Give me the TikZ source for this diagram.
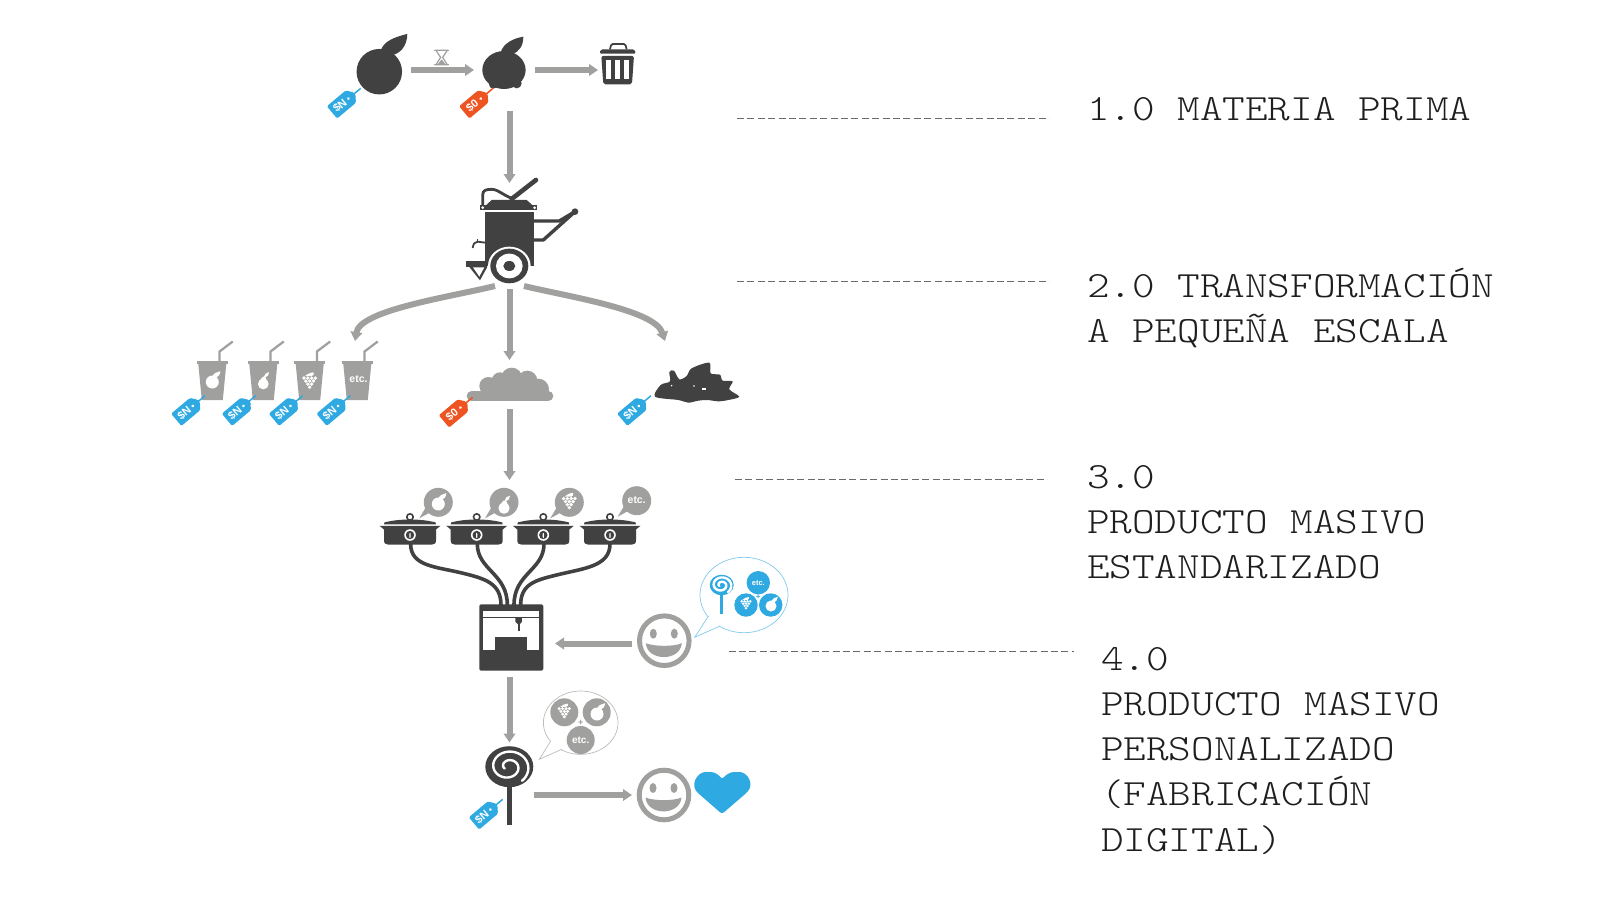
\documentclass[tikz,border=0pt]{standalone}
\usepackage{fontspec}
\setmainfont{Liberation Sans}
\newfontfamily\labfont[FakeStretch=1.163]{Latin Modern Mono Light}
\usetikzlibrary{arrows.meta}
\definecolor{ink}{HTML}{404140}
\definecolor{mid}{HTML}{A0A09F}
\definecolor{tagblue}{HTML}{2FA9E1}
\definecolor{tagorange}{HTML}{EE5322}
\definecolor{dashc}{HTML}{6A6A6A}
\definecolor{txt}{HTML}{1E1E1E}
\tikzset{
  conn/.style={draw=mid,line width=6pt,-{Triangle[length=9pt,width=11.5pt]}},
  pipe/.style={draw=ink,line width=3.6pt},
  guide/.style={draw=dashc,line width=1.3pt,dash pattern=on 7pt off 3.4pt},
  lab/.style={text=txt,font=\fontsize{37}{45.2}\selectfont\labfont,align=left,anchor=north west,inner sep=0pt},
  iconlab/.style={font=\fontsize{#1}{#1}\selectfont\bfseries,inner sep=0pt},
  bubbleline/.style={line width=.7pt},
  pics/pricetag/.style 2 args={code={
    \begin{scope}[rotate=220]
      \draw[#1,line width=1.5pt] (0,0)--(10,0);
      \fill[#1,rounded corners=1.3pt] (8,-1.4)--(13,-8)--(37.5,-8)--(37.5,8)--(13,8)--(8,1.4)--cycle;
      \fill[white] (16,0) circle (1.5);
      \node[iconlab=11,text=white,rotate=40] (-t) at (27,0) {#2};
    \end{scope}}},
  pics/applefig/.style={code={
    \fill[#1] (0,0) circle (6.5);
    \fill[#1] (.3,-5.6) .. controls (1,-9) and (5,-10) .. (8,-10.8) .. controls (8,-7.5) and (6,-4.5) .. (2.2,-4.6) -- cycle;}},
  pics/pearfig/.style={code={
    \fill[#1] (0,3.2) circle (5.6);
    \fill[#1] (-4.8,.8) .. controls (-3,-1) and (-2,-3) .. (-.5,-4.5) -- (2,-4.5) .. controls (3,-2) and (4,0) .. (5,1.5) -- cycle;
    \fill[#1] (.6,-4.5) .. controls (1,-7.5) and (3.5,-8.8) .. (6,-9.3) .. controls (6,-6.5) and (4.5,-4) .. (1.8,-3.8) -- cycle;}},
  pics/grapefig/.style={code={
    \foreach \gx/\gy in {-6/-1,-2/-1,2/-1,6/-1,-4/2.2,0/2.2,4/2.2,-2/5.4,2/5.4,0/8.6}
      {\fill[#1] (\gx,\gy) circle (1.95);}
    \fill[#1] (-5,-3) .. controls (-3,-5) and (1,-7) .. (4,-7) .. controls (5,-5) and (4,-3.5) .. (2,-3) -- cycle;}},
  pics/lollifig/.style={code={
    \fill[#1] (-2.6,18) rectangle (2.6,58);
    \fill[#1] (0,0) ellipse (24 and 20.5);
    \draw[white,line width=2.4pt,line cap=round] plot[domain=150:770,samples=70,smooth] ({-1+(\x)/36*cos(\x)},{(\x)/36*sin(\x)*.86});
  }},
  pics/cupfig/.style={code={
    \draw[mid,line width=2.3pt,line join=round] (7.2,1)--(7.2,-9.5)--(20.5,-19.5);
    \fill[mid] (-15.5,0) rectangle (15.5,3);
    \fill[mid] (-14,3)--(-10.5,39)--(10.5,39)--(14,3)--cycle;}},
  pics/potfig/.style={code={
    \draw[ink,line width=1.6pt] (0,-9) circle (3.2);
    \fill[ink] (-26,-1.6) -- (-25.5,-3.6) .. controls (-18,-5.5) and (-10,-6.5) .. (0,-6.5) .. controls (10,-6.5) and (18,-5.5) .. (25.5,-3.6) -- (26,-1.6) -- cycle;
    \fill[ink] (-30.5,-.2)--(30.5,-.2)--(26,3.5)--(26,14) .. controls (26,17.5) and (24.5,18.5) .. (22,18.5) -- (-22,18.5) .. controls (-24.5,18.5) and (-26,17.5) .. (-26,14) -- (-26,3.5) -- cycle;
    \fill[white] (0,9) circle (5.8);
    \fill[ink] (0,9) circle (4.2);
    \fill[white] (0,9.5) ellipse (.7 and 2.8);
  }},
  pics/smiley/.style={code={
    \draw[mid,line width=5pt] (0,0) circle (24.8);
    \fill[mid] (-11,-7) ellipse (3.5 and 5);
    \fill[mid] (10,-7) ellipse (3.5 and 5);
    \fill[mid] (-18.5,2.5) .. controls (-10,6) and (10,6) .. (17.5,2.5) .. controls (16,21) and (-17,21) .. (-18.5,2.5) -- cycle;
  }},
  pics/dropbubble/.style={code={
    \fill[mid] (0,0) circle (14.5);
    \fill[mid] (-8,10) -- (-19,16) -- (-12.5,5) -- cycle;
  }},
}
\begin{document}
\begin{tikzpicture}[x=1pt,y=-1pt]
\useasboundingbox (0,0) rectangle (1600,900);

% ---------- coordinates for connectors
\coordinate (a1s) at (411,70);   \coordinate (a1e) at (474,70);
\coordinate (a2s) at (535,70);   \coordinate (a2e) at (598,70);
\coordinate (a3s) at (509.5,111);\coordinate (a3e) at (509.5,183);
\coordinate (a4s) at (509.5,289);\coordinate (a4e) at (509.5,360);
\coordinate (a5s) at (509.5,409);\coordinate (a5e) at (509.5,480);
\coordinate (a6s) at (632,643.5);\coordinate (a6e) at (555,643.5);
\coordinate (a7s) at (509.5,677);\coordinate (a7e) at (509.5,742.5);
\coordinate (a8s) at (533.5,795);\coordinate (a8e) at (632,795);
\coordinate (cls) at (495,286);  \coordinate (cle) at (355,341);
\coordinate (crs) at (524,286);  \coordinate (cre) at (665,341);
\foreach \gn/\gy/\ga/\gb in {1/118.4/737/1049,2/281.6/737/1049,3/479.6/735/1047,4/651.4/728.6/1074}{
  \coordinate (g\gn s) at (\ga,\gy); \coordinate (g\gn e) at (\gb,\gy);
  \draw[guide] (g\gn s) -- (g\gn e);
}

% ---------- connectors
\draw[conn] (a1s)--(a1e);
\draw[conn] (a2s)--(a2e);
\draw[conn] (a3s)--(a3e);
\draw[conn] (a4s)--(a4e);
\draw[conn] (a5s)--(a5e);
\draw[conn] (a6s)--(a6e);
\draw[conn] (a7s)--(a7e);
\draw[conn] (a8s)--(a8e);
\draw[conn] (cls) .. controls (450,297) and (360,310) .. (cle);
\draw[conn] (crs) .. controls (570,297) and (655,310) .. (cre);

% ---------- first row
\pic[scale=3.5] at (379.3,71.7) {applefig=ink};
\begin{scope}[shift={(310,20)},x=.3333pt,y=-.3333pt]
  % second apple
  \fill[ink] (582,150) ellipse (65 and 57);
  \fill[ink] (550,193) circle (13); \fill[ink] (585,195) circle (12); \fill[ink] (620,190) circle (15);
  \fill[ink] (572,97) .. controls (580,70) and (610,55) .. (640,50) .. controls (640,75) and (630,95) .. (605,103) -- cycle;
  % hourglass
  \draw[mid,line width=1.6pt] (372,91)--(417,91) (372,134)--(417,134);
  \draw[mid,line width=1.2pt] (378,91)--(412,91)--(398,112)--(412,134)--(378,134)--(392,112)--cycle;
  \fill[mid] (395,118)--(408,134)--(382,134)--cycle;
  % trash can
  \draw[ink,line width=1.8pt,rounded corners=1.5pt] (900,88)--(904,72)--(946,72)--(950,88);
  \fill[ink,rounded corners=1.5pt] (868,101)--(873,88)--(973,88)--(978,101)--cycle;
  \fill[ink,rounded corners=2pt] (874,108)--(972,108)--(966,193)--(880,193)--cycle;
  \fill[white] (889,120) rectangle (904,177);
  \fill[white] (916,120) rectangle (931,177);
  \fill[white] (943,120) rectangle (958,177);
  % cart
  \draw[ink,line width=2.8pt,line join=round] (518,555)--(518,525) .. controls (518,510) and (530,508) .. (545,508) .. controls (565,508) and (585,530) .. (608,535);
  \draw[ink,line width=4.6pt,line cap=round] (605,537)--(678,480);
  \fill[ink] (545,540)--(650,540)--(668,556)--(528,556)--cycle;
  \fill[ink] (510,556) rectangle (682,571);
  \fill[white] (518,563) circle (4.5); \fill[white] (674,563) circle (4.5);
  \draw[white,line width=.7pt] (527,573)--(668,573);
  \fill[ink] (525,575) rectangle (672,738);
  \draw[ink,line width=3.4pt,line join=round] (672,603)--(748,603)--(795,575);
  \draw[ink,line width=3.4pt,line join=round,line cap=round] (672,660)--(700,660)--(795,575);
  \fill[ink] (795,575) circle (10);
  \draw[ink,line width=1.8pt] (525,668)--(503,665) .. controls (494,665) and (490,672) .. (488,684);
  \draw[ink,line width=1.4pt] (502,658)--(502,668);
  \fill[white] (598,738) ellipse (64 and 58);
  \fill[ink] (598,738) ellipse (57 and 52);
  \fill[white] (598,738) ellipse (40 and 37);
  \fill[ink] (598,738) ellipse (18 and 15);
  \fill[ink] (467,724) rectangle (530,741);
  \fill[ink] (478,741)--(532,741)--(510,781)--cycle;
  \fill[white] (489,742)--(523,742)--(508,770)--cycle;
\end{scope}
\pic (t1) at (360.7,88.3) {pricetag={tagblue}{\$N}};
\pic (t2) at (493,88.3) {pricetag={tagorange}{\$0}};

% ---------- cups
\pic at (212.3,361) {cupfig};
\pic at (263.3,361) {cupfig};
\pic at (309.7,361) {cupfig};
\pic at (357.3,361) {cupfig};
\pic at (212.3,382) {applefig=white};
\pic[scale=.95] at (263.3,381) {pearfig=white};
\pic[scale=.95] at (309.7,379) {grapefig=white};
\node[iconlab=10.5,text=white] (etc1) at (358.5,379.5) {etc.};
\pic (t3) at (205,395.7) {pricetag={tagblue}{\$N}};
\pic (t4) at (255.7,395.7) {pricetag={tagblue}{\$N}};
\pic (t5) at (302.7,395.7) {pricetag={tagblue}{\$N}};
\pic (t6) at (350.3,395.7) {pricetag={tagblue}{\$N}};

% ---------- cloud and leaves
\begin{scope}[shift={(420,340)},x=.3333pt,y=-.3333pt]
  \fill[mid] (155,168) circle (15);
  \fill[mid] (205,138) circle (27);
  \fill[mid] (240,122) circle (25);
  \fill[mid] (275,115) circle (32);
  \fill[mid] (322,122) circle (30);
  \fill[mid] (355,148) circle (32);
  \fill[mid] (385,168) circle (15);
  \fill[mid] (155,153) rectangle (385,183);
  \fill[mid] (190,120) rectangle (360,160);
  \fill[ink] plot[smooth cycle,tension=.5] coordinates {(705,170) (722,135) (750,124) (748,96) (762,92) (778,118) (800,108) (815,85) (868,68) (872,100) (900,104) (908,122) (938,124) (928,148) (958,170) (925,180) (895,184) (862,180) (835,182) (805,188) (775,180)};
  \fill[white] (755,137) circle (2.5); \fill[white] (822,138) circle (2.5);
  \fill[white] (846,143) rectangle (858,149);
\end{scope}
\pic (t7) at (472.7,397.3) {pricetag={tagorange}{\$0}};
\pic (t8) at (651,395.7) {pricetag={tagblue}{\$N}};

% ---------- pots
\pic at (410,526) {potfig};
\pic at (476.7,526) {potfig};
\pic at (543.3,526) {potfig};
\pic at (610,526) {potfig};
\pic at (438.3,502.3) {dropbubble};
\pic at (504,502.3) {dropbubble};
\pic at (569.3,502.3) {dropbubble};
\pic at (636.7,500.7) {dropbubble};
\pic at (438.3,504) {applefig=white};
\pic at (504,505) {pearfig=white};
\pic[scale=.95] at (569.3,499.5) {grapefig=white};
\node[iconlab=10.5,text=white] (etc2) at (636.7,500.5) {etc.};

% ---------- printer
\begin{scope}[shift={(370,470)},x=.3333pt,y=-.3333pt]
  \coordinate (p1a) at (122,222); \coordinate (p1b) at (393,405);
  \coordinate (p2a) at (322,222); \coordinate (p2b) at (412,405);
  \coordinate (p3a) at (522,222); \coordinate (p3b) at (432,405);
  \coordinate (p4a) at (720,222); \coordinate (p4b) at (452,405);
  \draw[pipe] (p1a) .. controls (122,290) and (200,290) .. (280,310) .. controls (345,326) and (393,340) .. (p1b);
  \draw[pipe] (p2a) .. controls (322,300) and (412,310) .. (p2b);
  \draw[pipe] (p3a) .. controls (522,300) and (432,310) .. (p3b);
  \draw[pipe] (p4a) .. controls (720,290) and (640,295) .. (560,315) .. controls (500,330) and (452,340) .. (p4b);
  \fill[ink,rounded corners=1.5pt] (328,403) rectangle (520,602);
  \fill[white] (340,422) rectangle (507,440);
  \fill[white] (340,444) rectangle (507,540);
  \fill[ink] (375,500) rectangle (470,545);
  \fill[ink] (436,444)--(456,444)--(456,455)--(447,466)--(436,455)--cycle;
  \fill[ink] (444,460) rectangle (449,484);
\end{scope}

% ---------- smileys and heart
\pic at (664.3,640.7) {smiley};
\pic at (664,795) {smiley};
\begin{scope}[shift={(450,680)},x=.3333pt,y=-.3333pt]
  \fill[tagblue,rounded corners=2.5pt] (816,402)--(745,340) .. controls (722,315) and (740,276) .. (775,276) .. controls (795,276) and (808,286) .. (816,298) .. controls (826,286) and (840,276) .. (860,276) .. controls (896,276) and (912,315) .. (888,340) -- cycle;
\end{scope}

% ---------- blue bubble
\draw[tagblue!60,bubbleline,fill=white] (744,595) ellipse (44 and 37.7);
\coordinate (bb1) at (708.5,616); \coordinate (bbt) at (694.7,637.3); \coordinate (bb2) at (720,626);
\fill[white] (bb1)--(bbt)--(bb2)--(722,620)--(712,612)--cycle;
\draw[tagblue!60,bubbleline] (bb1)--(bbt)--(bb2);
\pic[scale=.5] at (721.7,585) {lollifig=tagblue};
\fill[tagblue] (758.3,582.7) circle (11.7);
\node[iconlab=7.5,text=white] (etc3) at (758.3,582.7) {etc.};
\fill[tagblue] (746,605) circle (11.7);
\fill[tagblue] (770.7,605) circle (11.7);
\pic[scale=.72] at (746,602) {grapefig=white};
\pic[scale=.85] at (771,606) {applefig=white};
\node[iconlab=8,text=tagblue] (pl1) at (758.3,597.5) {+};

% ---------- gray bubble
\draw[mid!70,bubbleline,fill=white] (580.7,722.7) ellipse (37.3 and 31.7);
\coordinate (gb1) at (550.7,741); \coordinate (gbt) at (539.3,759.3); \coordinate (gb2) at (561.7,749.3);
\fill[white] (gb1)--(gbt)--(gb2)--(562,745)--(554,739)--cycle;
\draw[mid!70,bubbleline] (gb1)--(gbt)--(gb2);
\fill[mid] (564.3,712.3) circle (14);
\fill[mid] (596.7,712.3) circle (14);
\fill[mid] (580.7,740) circle (14);
\pic[scale=.85] at (564.3,709.5) {grapefig=white};
\pic[scale=1] at (597,714) {applefig=white};
\node[iconlab=10,text=white] (etc4) at (580.7,740) {etc.};
\node[iconlab=9,text=mid] (pl2) at (580.7,722.5) {+};

% ---------- lollipop
\pic at (509.3,766.7) {lollifig=ink};
\pic (t9) at (502.7,799.3) {pricetag={tagblue}{\$N}};

% ---------- labels
\node[lab] (l1) at (1087,97) {1.0 MATERIA PRIMA};
\node[lab] (l2) at (1087,268) {2.0 TRANSFORMACIÓN\\A PEQUEÑA ESCALA};
\node[lab] (l3) at (1087,465) {3.0\\PRODUCTO MASIVO\\ESTANDARIZADO};
\node[lab] (l4) at (1101,647) {4.0\\PRODUCTO MASIVO\\PERSONALIZADO\\(FABRICACIÓN\\DIGITAL)};
\end{tikzpicture}
\end{document}
